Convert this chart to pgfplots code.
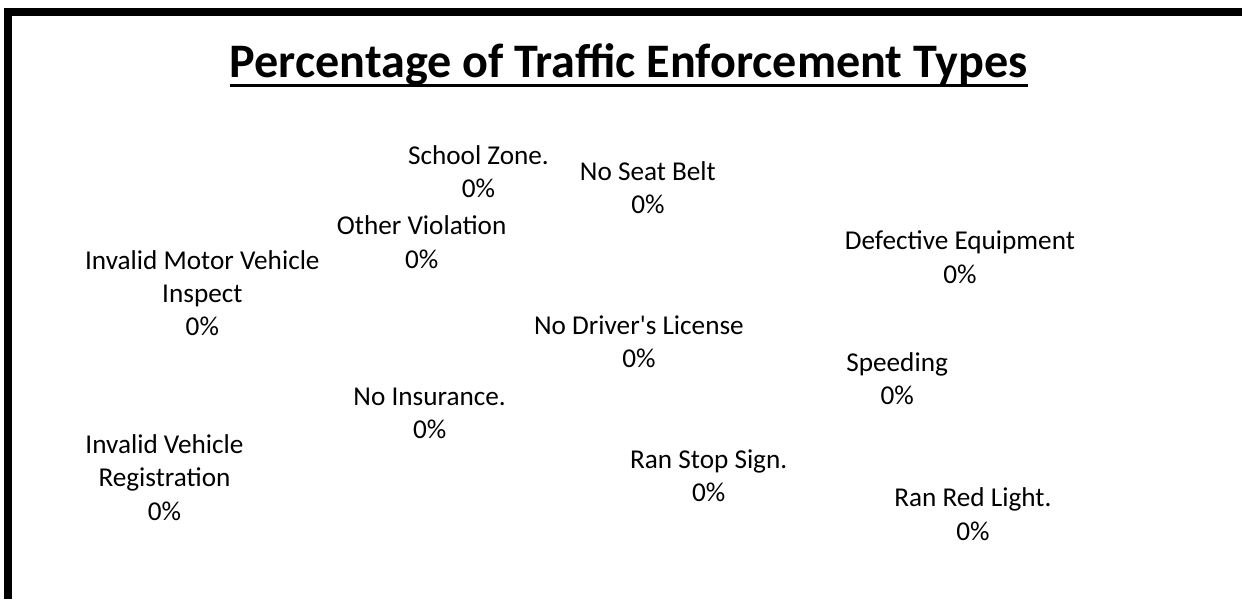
\documentclass[border=0pt]{standalone}
\usepackage{fontspec}
\setmainfont{Carlito}
\usepackage{pgfplots}
\pgfplotsset{compat=1.18}

% underline with a thick rule, as in the reference title
\newcommand\titleul[1]{\setbox0=\hbox{#1}\rlap{\rule[-9bp]{\wd0}{3bp}}\box0}

\begin{document}
\begin{tikzpicture}
\begin{axis}[
    scale only axis,
    width=1246bp, height=601bp,
    xmin=0, xmax=1246,
    ymin=0, ymax=601,
    y dir=reverse,
    hide axis,
    clip=false,
    title={\titleul{Percentage of Traffic Enforcement Types}},
    title style={at={(axis description cs:0.5064,0.881)}, anchor=center,
        font=\bfseries\fontsize{48.3bp}{58bp}\selectfont},
]
% pie with every share at 0%: only the data labels are drawn
\addplot[draw=none, mark=none,
    nodes near coords,
    point meta=explicit symbolic,
    nodes near coords style={anchor=center, align=center, inner sep=0pt,
        font=\fontsize{27.3bp}{33.5bp}\selectfont},
] coordinates {
    (480,172) [School Zone.\\0\%]
    (650,188) [No Seat Belt\\0\%]
    (423,243) [Other Violation\\0\%]
    (963,258) [Defective Equipment\\0\%]
    (203,294) [Invalid Motor Vehicle\\Inspect\\0\%]
    (641,343) [No Driver\textquotesingle s License\\0\%]
    (900,380) [Speeding\\0\%]
    (431,415) [No Insurance.\\0\%]
    (165,479) [Invalid Vehicle\\Registration\\0\%]
    (711,477) [Ran Stop Sign.\\0\%]
    (976,516) [Ran Red Light.\\0\%]
};
% keep the whole chart area as the page
\path (axis cs:0,0) rectangle (axis cs:1246,601);
\draw[line width=8bp, line join=miter] (axis cs:8.5,601) |- (axis cs:1246,12);
\end{axis}
\end{tikzpicture}
\end{document}
